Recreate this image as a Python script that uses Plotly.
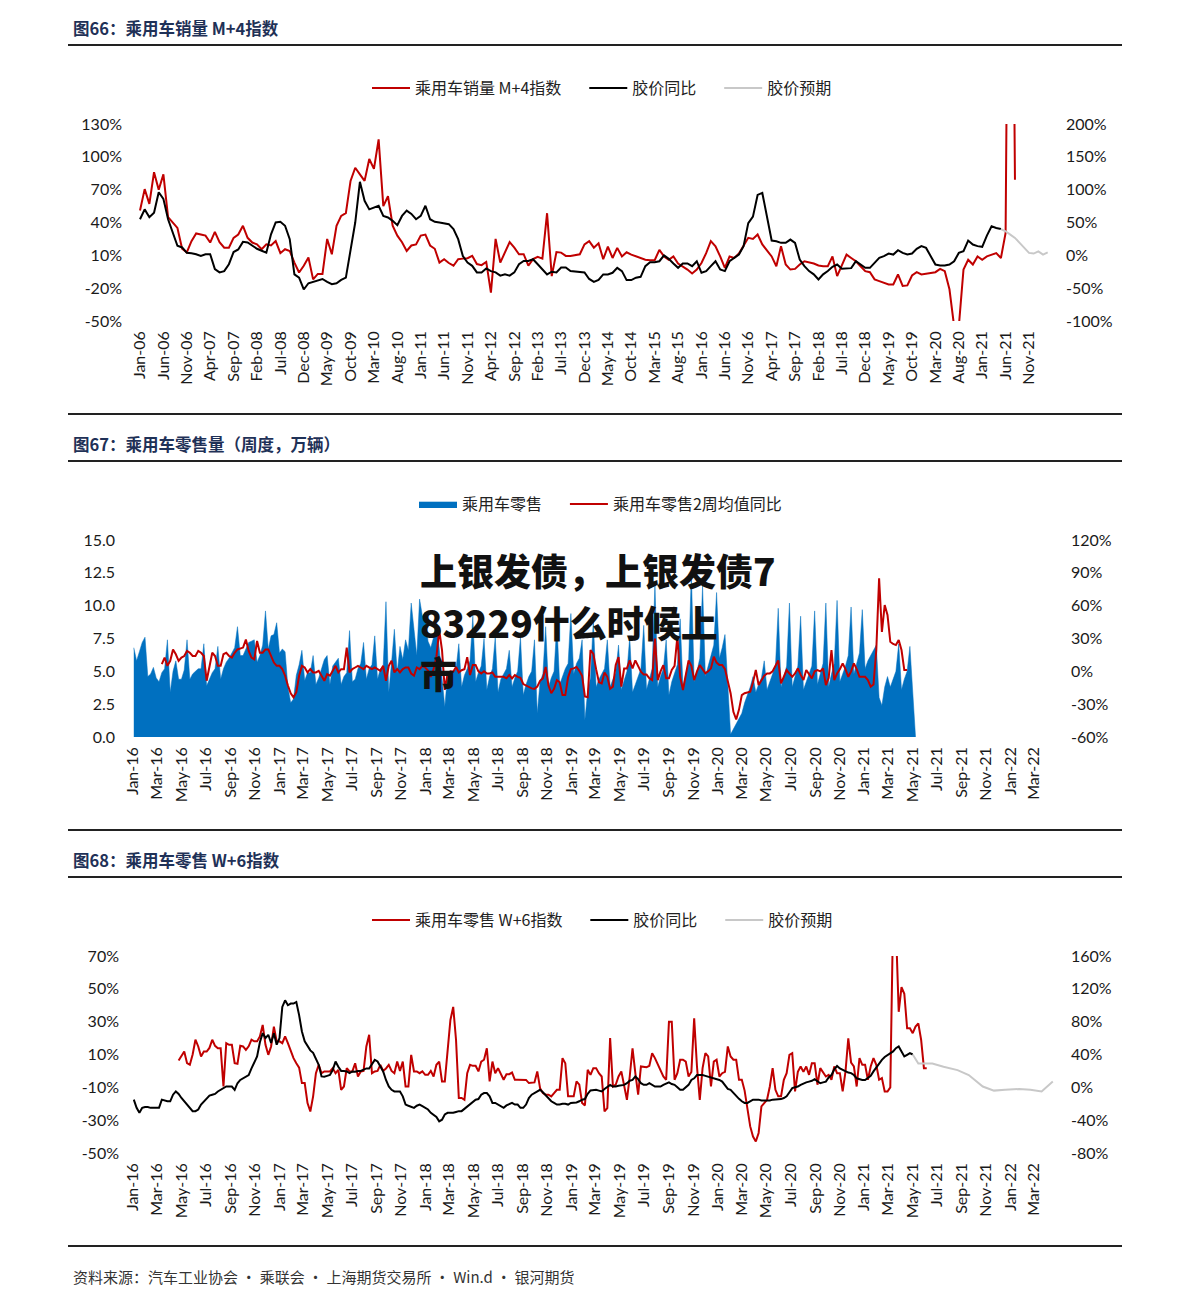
import pandas as pd
import plotly.graph_objects as go

# ---------------- Panel 1 (monthly) ----------------
p1_months = pd.date_range("2006-01-01", "2022-03-01", freq="MS")
p1_categories = [d.strftime("%b-%y") for d in p1_months]
p1_tick_labels = p1_categories[::5]

p1_sales_m4 = [51, 70.5, 57, 86, 70, 84, 45, 40, 35, 16, 12.6, 23, 30, 29, 28, 21.7, 31.5, 22, 17, 17,
               26, 29, 37, 26, 21.7, 20, 15.6, 20, 19, 23, 12, 15.6, 14, 3.4, -5.7, 0.5, 8, -12, -7, -7,
               25, 11, 37, 46, 48.5, 78, 90, 84, 78, 98, 89, 116, 55, 64, 37, 28, 22, 14, 19, 20,
               28, 29, 19, 16, 3.4, 6.5, 3, 0.5, 6.5, 7, 7.4, 9.5, 2, 1, 4, -24, 25, 3.4, 12.5, 22,
               17, 11, 11, 0.5, 6.5, 8.6, 7, 48.5, -9, 13, 12.5, 9.5, 9.5, 10.4, 11, 20, 23, 17, 21, 6.5,
               18, 7.6, 16.8, 9, 12.8, 10.7, 9, 7.6, 6, 5.5, 5.5, 15, 9, 6, 9, 2.5, 0, -3, -6.6, -3,
               3, 12, 23, 18.3, 9, -1.5, 9, 7.6, 11.6, 18.3, 26, 25, 29, 20, 15, 9, 0, 18.3, 1.6, -3,
               -2.4, 1.6, 4.6, 3.7, 2.5, 0.7, 0, 0, 9, -9, 1.6, 10.7, 7.6, 4.6, 0, -4.5, -5.4, -12, -13.6, -15,
               -16.6, -16.6, -7.5, -18, -17.5, -8.4, -5.4, -7.5, -6.6, -6, -5.4, -2.4, -4.5, -21, -55, -55, -3, 6, 1.6, 9,
               6, 9, 10.7, 12, 7.6, 30.5, 600, 79]
p1_rubber_yoy = [55, 70, 58, 65, 96, 86, 55, 35, 14.5, 12, 4, 3, 1.7, -1, 1.7, 1.7, -21, -26, -24, -13.5,
                 5, 9, 20.5, 19.5, 14.5, 10, 7, 4, 32, 50, 51, 45, 24.6, -29, -34, -52, -42.5, -40.5, -38, -36,
                 -40.5, -44, -42.5, -37.5, -34, 9.5, 50, 112, 83, 70, 73, 75.5, 60, 57.6, 52.5, 46, 60, 68, 63, 55,
                 60, 75.5, 55, 51, 50, 49, 47.5, 40, 24.6, -1, -11, -16, -26, -26, -20, -24, -26, -31, -29, -31,
                 -26, -13.5, -8.5, -8.5, -6, -13.5, -21, -29, -25, -26, -18.6, -18.6, -24, -24.7, -24.7, -26, -36, -40.5, -37.5, -29,
                 -29, -26.6, -19, -24, -37.7, -37.7, -34, -32.7, -16.5, -10.4, -10.4, -9, 0, -5.4, -12.4, -19, -12.4, -12.4, -16.5, -9,
                 -26.6, -24, -16.5, -9, -21.5, -24, -9, -3.8, 1.2, 14, 49, 59, 92, 95, 59, 22.5, 21.5, 19, 19, 24,
                 19, -6.4, -16.5, -24, -29, -36.7, -29, -24, -17.5, -14, -20.5, -20.5, -19.5, -9, -14, -19, -19, -11.4, -3.8, -1.3,
                 2.7, 1.2, 7.8, 3.7, 1.2, 2.7, 9.8, 14, 11.3, -1.3, -14, -15.5, -15.5, -14, -9, 3.7, 6.3, 22.5, 16.4, 14,
                 13, 30, 44.2, 41.7, 40]
p1_rubber_fcst = [40, 36.6, 31.6, 26.5, 19, 11.3, 3.7, 2.7, 6, 1, 4.5]

# ---------------- Panel 2 (weekly) ----------------
p2_retail_start = "2016-01-03"
p2_retail = [
    6.8, 5.8, 6.5, 7.2, 7.6, 4.6, 4.8, 5.3, 4.5, 4.2, 4.9, 5.2, 7.4, 3.4, 5.0, 5.8, 4.4,
    4.4, 5.1, 7.4, 4.4, 4.8, 5.0, 5.2, 5.2, 7.1, 3.9, 4.4, 4.9, 5.2, 6.9, 4.4, 5.2, 5.7, 6.0,
    6.4, 6.8, 8.4, 6.2, 6.2, 6.7, 7.2, 7.3, 7.4, 5.7, 6.2, 7.0, 9.6, 6.7, 7.7, 7.8, 8.7,
    # 2017
    6.4, 6.7, 6.5, 3.8, 2.6, 2.9, 4.7, 5.5, 6.6, 4.3, 4.9, 4.9, 6.2, 4.0, 4.5, 5.2, 5.9, 6.2,
    4.0, 5.4, 5.7, 6.0, 4.0, 4.6, 4.9, 8.1, 4.2, 4.4, 5.2, 5.6, 7.2, 4.4, 5.2, 5.5, 7.7,
    4.4, 5.2, 5.4, 10.3, 3.4, 5.7, 8.2, 4.9, 6.9, 5.9, 7.4, 6.6, 10.2, 8.2, 6.2, 10.5, 9.2, 9.5,
    # 2018
    7.3, 6.8, 7.6, 9.0, 6.5, 4.5, 2.3, 4.8, 4.5, 5.0, 5.2, 7.1, 3.8, 4.7, 5.2, 5.8, 9.2,
    4.2, 4.9, 5.4, 7.5, 3.6, 4.6, 5.2, 7.6, 3.4, 4.4, 4.8, 5.2, 6.6, 3.8, 4.5, 5.0, 7.6,
    3.2, 4.0, 4.6, 5.0, 7.4, 1.8, 4.2, 4.8, 8.4, 3.8, 4.5, 5.0, 8.7, 4.0, 4.6, 5.2, 5.6, 9.4,
    # 2019
    4.8, 5.6, 6.0, 7.4, 1.3, 3.5, 4.5, 8.9, 3.8, 4.4, 4.8, 5.2, 7.4, 3.8, 4.4, 4.9, 7.0,
    3.6, 4.3, 5.0, 7.6, 3.4, 4.0, 4.6, 5.2, 8.5, 3.6, 4.4, 5.2, 11.7, 3.8, 4.6, 5.2, 7.4,
    3.2, 4.2, 4.8, 5.5, 9.0, 3.8, 4.8, 5.6, 12.5, 4.2, 5.0, 6.0, 11.5, 4.6, 5.4, 6.2, 7.0, 11.0,
    # 2020
    6.0, 6.8, 7.8, 4.0, 0.2, 0.6, 1.0, 1.3, 1.8, 2.6, 3.2, 3.8, 4.6, 3.4, 4.0, 4.5, 5.8,
    3.6, 4.2, 4.8, 5.4, 9.8, 3.8, 4.6, 5.4, 10.2, 3.8, 4.6, 5.4, 9.2, 3.6, 4.2, 4.8, 5.4, 9.6,
    4.0, 4.8, 5.6, 10.2, 3.8, 4.8, 5.6, 10.4, 4.2, 4.8, 5.4, 6.2, 9.9, 4.8, 5.6, 6.4, 9.7,
    # 2021
    5.2, 5.8, 6.2, 6.6, 7.0, 3.0, 2.4, 3.8, 4.6, 3.8, 4.4, 5.0, 7.1, 3.6, 4.4, 5.0, 6.9,
    3.3, 0.0,
]
p2_yoy_start = "2016-03-13"
p2_yoy = [
    6.6, 12.6, 5, 9.6, 20, 15.6, 9.6, 12.6, 14, 18.7, 17, 14, 14, 18.7, 17, 14,
    -8.6, 5, 17, 14, 5, 5, 15.6, 17, 14, 12.6, 17, 20, 21, 21.7, 29, 18.7, 12.6, 11,
    27.7, 17, 17, 20, 20, 14, 8, 5,
    # 2017
    5, 2, -4, -13, -20, -23.7, -19, -4, 5, 3.5, -1, 2, -1, -1, 0.5, -4, -8.6, -2.5,
    -4, 0.5, 5, -1, 2, 2, 21.7, -1, 2, 3.5, 5, 3.5, 2, 5, 3.5, 2, 3.5,
    2, 0.5, 5, -8.6, 5, 9.6, -1, 2, -1, 2, 3.5, 3.5, -2, -4, 3.5, 2, 5, 3.5,
    # 2018
    0.7, -5, 2, 13, 37.7, 19.5, -17, -2, 0, -0.4, 4, -1, 1, 2, 13, -3.4, 5.7,
    5.7, 0, -2, 0, -2, -2, -1, -5, -5, -5, -5, -6.4, -3.4, -6.4, -3.4, -5, -6,
    -11.6, -13, -14, -15.6, -16, -14, -8.6, -6.4, 4, -13, -20, -16, -8, -10, -21.7, -21.7, -5.5, 2,
    # 2019
    2.7, 4, 0.5, -4, -23, -23.7, 19.5, 16, 2, -10, -11, -1, -5, -16, -14, 5.7, 13,
    -14, 2.7, 2.7, 10, 2.7, 10, 5, -0.4, -3, -3, -6.4, -8, 30, -8, 0, 5.7, -6.4,
    -6.4, 1.2, 5, 31.6, -5, -17, -5, 10, 5, -8, 0, 5.7, 2, -1.9, 0, 2.7, 13.4, 8,
    # 2020
    5.7, 5.7, 2, -10, -20, -37, -44, -35, -21.7, -20, -19, -18.6, -10, 1.2, -12.5, -8, -4,
    -1.9, -1.9, 0, 5, 10, -11, -5, 1.2, -2, -5, -2, 2.7, -3, -8, 1.2, -3, -6.4, 0,
    1.2, 0, 2.7, -12.5, -6, 19.5, -8, -2, 2, 7.3, 2, -5, 0, 7.3, 2, -5, -5,
    # 2021
    -5, -8, -14, -12, 19.5, 85, 36, 60.6, 51.5, 27, 25, 24, 28.6, 19.5, 1.2, 1.2,
]

# ---------------- Panel 3 (weekly) ----------------
p3_w6_start = "2016-04-24"
p3_w6 = [
    6.3, 8.8, 11.8, 4.7, 3.7, 10, 19, 14.9, 8.8, 11.8, 11.8, 14, 19, 15.3, 13.8,
    13.8, -9.5, 16.9, 15.9, 15.9, 4.7, 4.3, 15.3, 14.9, 12.8, 15, 19, 18,
    18, 21, 28, 15.9, 9.8, 14.9, 27, 18,
    # 2017
    18, 16.9, 21, 16.9, 12, 7.8, 4.7, 2, -7.4, -7.4, -19.6, -24.7, -15.5, -1.4, 3.7, -1.4, -0.3, -0.3,
    -0.3, 1.7, -1.4, 0.7, -11.5, -9.5, 1.7, -0.3, -0.3, 4.7, -3.4, -0.3, 0, 14.9, 22, -1.4, -0.3,
    0, 3.7, 0, 1.5, 3.7, 0, -1.4, 5.7, 0, 5.7, -9.5, -9.5, 9.8, -0.3, -0.3, -1.4, -0.3, -2.4,
    # 2018
    -2.4, 0, -3.4, 3.7, 5.7, -6.4, -6.4, 10.8, 31, 39, 19, -16.5, -16.5, -17.6, -1.4, 3.7, 3.1,
    3.1, -0.3, 5.7, 6.8, 13.8, -6.4, 5.7, -1.4, 1.7, -1.4, -5.4, -2, -2, -1, -5.4, -5.4, -5.4,
    -5.4, -5.5, -7.4, -7, -7, -0.3, -10.5, -13.5, -14.5, -14.5, -15.5, -13.5, -11.5, -11.5, 7.8, 4.7, -15.5, -15.5,
    # 2019
    -15.5, -6.4, -8.4, -19.6, -21, 0.7, -2.4, 1.7, 1.7, -1.4, -3.4, -24.7, -22.6, 20, -9.5, -8.4, -3.4,
    -0.3, -9.5, -17.6, -3.4, 13.8, -1.4, -14.5, 2.7, 2.3, 2.3, 3.1, 10.8, 7.8, 3.7, 0, -3.4, -5.4,
    30, 30, -5.4, -1.4, 6.8, 6.8, 5.7, -3.4, -0.6, 32, 2.7, -17.6, 1.7, 10.8, 8.8, -9.5, 5.7, 6.8,
    # 2020
    -3.4, -1.4, -0.6, 14.9, 8.8, 6.8, 6.8, -5.4, -5.4, -12, -21.6, -33.8, -40, -43, -37.8, -21.6, -19.6,
    -17.6, -9.5, 1.7, -11.5, -15.5, -15.5, -5.4, -1.4, 9.8, 10.8, -12.5, -0.6, 2.7, -0.6, 2.7, -2.4, 4.7, 4.7,
    -8.4, 1.7, -0.6, -3.4, -2.4, -5.4, 2.7, -1.4, -1.4, -12.5, -0.6, 19.9, 5, 2.7, -9.5, 7.8, 3.7,
    # 2021
    3.7, -5.4, 2.7, 7.8, 3.7, -5.4, -4.4, -12.5, -12.5, -10, 95, 88, 36, 51, 47, 26, 26,
    23, 27, 29, 19, 1.7, 1.7,
]
p3_rubber_start = "2016-01-03"
p3_rubber_yoy = [
    -15, -25, -31, -25, -24, -24, -25, -25, -25, -25, -15, -16, -17, -17, -9, -5, -8,
    -13, -17, -21, -25, -29, -29, -27, -21, -17, -13, -10, -9, -8, -5, -3, -1, 1, 1,
    1, -3, 5, 9, 11, 13, 15, 23, 30, 37.6, 55, 66, 60, 64, 54, 66, 52,
    # 2017
    60, 98, 106, 100, 102, 102, 104, 88, 68, 56, 50, 45, 42, 35, 27.5, 13.3, 13, 14,
    15, 21, 31.5, 25, 20, 20, 19.4, 17.3, 19.4, 19, 20, 20, 22, 23, 23, 27.5, 33.5,
    31.5, 25, 19.4, 9, 1, -3, -5, -5, -5, -11, -21, -22.4, -24, -25, -22.4, -21, -23, -25,
    # 2018
    -27, -31, -33, -36, -41.5, -39.4, -33, -31, -31, -31, -30, -29, -29, -26, -23, -21, -18,
    -15, -14.3, -9, -7, -7, -11, -19, -19, -21, -23, -25, -22, -20, -19, -21, -21, -25,
    -25, -21, -13, -9, -7, -5, -3, -6, -10, -13, -17, -19, -21, -21, -20, -20, -21, -19,
    # 2019
    -19, -18.4, -17, -15, -14.3, -7.8, -3.8, -3, -3, -4, -5, -2, 1, 3, 1, 1, 2,
    2.3, 3, 5, 8, 9, 13.3, 10, 5, 3, 3, 5, 3, 1, 1, 1, 3, 5,
    6, 4, 3, 0, -3, -3, 0, 3, 9, 11, 15, 15, 15, 14, 13, 12, 11, 10,
    # 2020
    9, 7, 2, -2, -3, -7, -11, -14, -17, -19, -19, -17, -15, -15, -15, -16, -16,
    -16, -16, -15, -15, -15, -14.3, -13, -11, -6, -1, 0, 1, 3, 5, 6, 7, 8, 10,
    8, 5, 6, 7, 12, 15, 22, 26, 23, 21, 19.4, 18, 17.3, 15, 11, 10, 9,
    # 2021
    9, 11, 14, 19.4, 24, 29.5, 33.5, 37, 39.6, 41.6, 43.7, 47.7, 49.8, 43.7, 37.6, 39.6, 41.6,
    40,
]
p3_fcst_dates = ["2021-05-02", "2021-05-16", "2021-06-20", "2021-07-18", "2021-08-22", "2021-09-19",
                 "2021-10-24", "2021-11-21", "2021-12-19", "2022-01-23", "2022-02-20", "2022-03-20", "2022-04-17"]
p3_rubber_fcst = [40, 29, 29, 25, 21, 15, 1, -4, -3, -2, -3, -5, 7]

weekly_tick_dates = pd.date_range("2016-01-01", "2022-03-01", freq="2MS")

# ---------------- Styling helpers ----------------
W, H = 1191, 1304
PAGE_OFFSET = 8  # the page places the figure 8px from the top-left corner
RED, BLACK, GRAY, BLUE = "#C00000", "#000000", "#C8C8C8", "#0070C0"
TICKFONT = dict(family="Lato, DejaVu Sans", size=16, color="#1a1a1a")
CJK = "Noto Sans CJK SC"
NB = "\u00a0"


def px_x(x):
    return (x - PAGE_OFFSET) / W


def px_y(y):
    return 1 - (y - PAGE_OFFSET) / H


def ydom(top, bottom):
    return [px_y(bottom), px_y(top)]


X_LEFT, X_RIGHT = 125, 1055
XDOM = [px_x(X_LEFT), px_x(X_RIGHT)]

# panel 1 category axis: idx0 at 140px, Nov-21 (idx 190) at 1029px
P1_PPM = (1029 - 140) / 190
p1_range = [(X_LEFT - 140) / P1_PPM, (X_RIGHT - 140) / P1_PPM]

# panel 2/3 date axis: 2016-01-01 at 133px, 2022-03-01 at 1034px
d0, d1 = pd.Timestamp("2016-01-01"), pd.Timestamp("2022-03-01")
ppd = (1034 - 133) / (d1 - d0).days
w_range = [d0 - pd.Timedelta(days=(133 - X_LEFT) / ppd), d1 + pd.Timedelta(days=(X_RIGHT - 1034) / ppd)]

fig = go.Figure()

# Panel 1
fig.add_trace(go.Scatter(x=p1_categories[:len(p1_sales_m4)], y=p1_sales_m4, mode="lines",
                         line=dict(color=RED, width=2), name="乘用车销量 M+4指数" + NB * 5,
                         xaxis="x", yaxis="y", legend="legend"))
fig.add_trace(go.Scatter(x=p1_categories[:len(p1_rubber_yoy)], y=p1_rubber_yoy, mode="lines",
                         line=dict(color=BLACK, width=2), name="胶价同比" + NB * 5,
                         xaxis="x", yaxis="y2", legend="legend"))
fig.add_trace(go.Scatter(x=p1_categories[184:184 + len(p1_rubber_fcst)], y=p1_rubber_fcst, mode="lines",
                         line=dict(color=GRAY, width=2), name="胶价预期",
                         xaxis="x", yaxis="y2", legend="legend"))

# Panel 2
p2_dates = pd.date_range(p2_retail_start, periods=len(p2_retail), freq="7D")
p2_ydates = pd.date_range(p2_yoy_start, periods=len(p2_yoy), freq="7D")
fig.add_trace(go.Scatter(x=p2_dates, y=p2_retail, mode="lines", fill="tozeroy",
                         line=dict(color=BLUE, width=0.5), fillcolor=BLUE, name="乘用车零售" + NB * 5,
                         xaxis="x2", yaxis="y3", legend="legend2"))
fig.add_trace(go.Scatter(x=p2_ydates, y=p2_yoy, mode="lines", line=dict(color=RED, width=2),
                         name="乘用车零售2周均值同比", xaxis="x2", yaxis="y4", legend="legend2"))

# Panel 3
p3_wdates = pd.date_range(p3_w6_start, periods=len(p3_w6), freq="7D")
p3_rdates = pd.date_range(p3_rubber_start, periods=len(p3_rubber_yoy), freq="7D")
fig.add_trace(go.Scatter(x=p3_wdates, y=p3_w6, mode="lines", line=dict(color=RED, width=2),
                         name="乘用车零售 W+6指数" + NB * 5, xaxis="x3", yaxis="y5", legend="legend3"))
fig.add_trace(go.Scatter(x=p3_rdates, y=p3_rubber_yoy, mode="lines", line=dict(color=BLACK, width=2),
                         name="胶价同比" + NB * 5, xaxis="x3", yaxis="y6", legend="legend3"))
fig.add_trace(go.Scatter(x=pd.to_datetime(p3_fcst_dates), y=p3_rubber_fcst, mode="lines",
                         line=dict(color=GRAY, width=2), name="胶价预期",
                         xaxis="x3", yaxis="y6", legend="legend3"))


def pct(vals):
    return [f"{v}%" for v in vals]


base_axis = dict(showgrid=False, zeroline=False, showline=False, tickfont=TICKFONT, ticks="",
                 automargin=False)

p1_left = list(range(-50, 131, 30))
p1_right = list(range(-100, 201, 50))
p2_left = [0, 2.5, 5, 7.5, 10, 12.5, 15]
p2_right = list(range(-60, 121, 30))
p3_left = list(range(-50, 71, 20))
p3_right = list(range(-80, 161, 40))

legend_common = dict(orientation="h", xanchor="left", yanchor="middle", bgcolor="rgba(0,0,0,0)",
                     font=dict(family=CJK, size=16, color="#222"), itemwidth=38)

fig.update_layout(
    width=W, height=H, margin=dict(l=0, r=0, t=0, b=0, pad=0, autoexpand=False),
    paper_bgcolor="white", plot_bgcolor="white",
    xaxis=dict(base_axis, domain=XDOM, type="category", categoryorder="array", categoryarray=p1_categories,
               range=p1_range, tickmode="array", tickvals=p1_tick_labels, ticktext=p1_tick_labels,
               tickangle=-90, anchor="y", ticklabelstandoff=6),
    yaxis=dict(base_axis, domain=ydom(124, 321), range=[-50, 130], tickvals=p1_left, ticktext=pct(p1_left),
               anchor="x", ticklabelstandoff=2),
    yaxis2=dict(base_axis, overlaying="y", side="right", range=[-100, 200], tickvals=p1_right,
                ticktext=pct(p1_right), anchor="x", ticklabelstandoff=10),
    xaxis2=dict(base_axis, domain=XDOM, type="date", range=w_range, tickmode="array",
                tickvals=weekly_tick_dates, ticktext=[d.strftime("%b-%y") for d in weekly_tick_dates],
                tickangle=-90, anchor="y3", ticklabelstandoff=6),
    yaxis3=dict(base_axis, domain=ydom(540, 737), range=[0, 15], tickvals=p2_left,
                ticktext=[f"{v:.1f}" for v in p2_left], anchor="x2", ticklabelstandoff=9),
    yaxis4=dict(base_axis, overlaying="y3", side="right", range=[-60, 120], tickvals=p2_right,
                ticktext=pct(p2_right), anchor="x2", ticklabelstandoff=15),
    xaxis3=dict(base_axis, domain=XDOM, type="date", range=w_range, tickmode="array",
                tickvals=weekly_tick_dates, ticktext=[d.strftime("%b-%y") for d in weekly_tick_dates],
                tickangle=-90, anchor="y5", ticklabelstandoff=6),
    yaxis5=dict(base_axis, domain=ydom(956, 1153), range=[-50, 70], tickvals=p3_left, ticktext=pct(p3_left),
                anchor="x3", ticklabelstandoff=5),
    yaxis6=dict(base_axis, overlaying="y5", side="right", range=[-80, 160], tickvals=p3_right,
                ticktext=pct(p3_right), anchor="x3", ticklabelstandoff=15),
    legend=dict(legend_common, x=px_x(367), y=px_y(88)),
    legend2=dict(legend_common, x=px_x(414), y=px_y(504)),
    legend3=dict(legend_common, x=px_x(367), y=px_y(920)),
    showlegend=True,
)

# Section titles, separators, source and overlay text
titles = [("图66：乘用车销量 M+4指数", 28), ("图67：乘用车零售量（周度，万辆）", 444), ("图68：乘用车零售 W+6指数", 860)]
for text, y in titles:
    fig.add_annotation(text=f"<b>{text}</b>", x=px_x(71), y=px_y(y), xref="paper", yref="paper",
                       xanchor="left", yanchor="middle", showarrow=False,
                       font=dict(family=CJK, size=16.5, color="#1F3157"))

for y in [45, 414, 461, 830, 877, 1246]:
    fig.add_shape(type="line", xref="paper", yref="paper", x0=px_x(68), x1=px_x(1122), y0=px_y(y), y1=px_y(y),
                  line=dict(color="#222", width=2))

fig.add_annotation(text="资料来源：汽车工业协会 · 乘联会 · 上海期货交易所 · Win.d · 银河期货",
                   x=px_x(71), y=px_y(1276), xref="paper", yref="paper", xanchor="left", yanchor="middle",
                   showarrow=False, font=dict(family=CJK, size=15, color="#333"))

overlay_lines = [("上银发债，上银发债7", 570), ("83229什么时候上", 622), ("市", 673)]
for text, y in overlay_lines:
    fig.add_annotation(text=text, x=px_x(418), y=px_y(y), xref="paper", yref="paper",
                       xanchor="left", yanchor="middle", showarrow=False,
                       font=dict(family=CJK, size=37, color="#111", weight=900))

fig.write_html("out.html")
